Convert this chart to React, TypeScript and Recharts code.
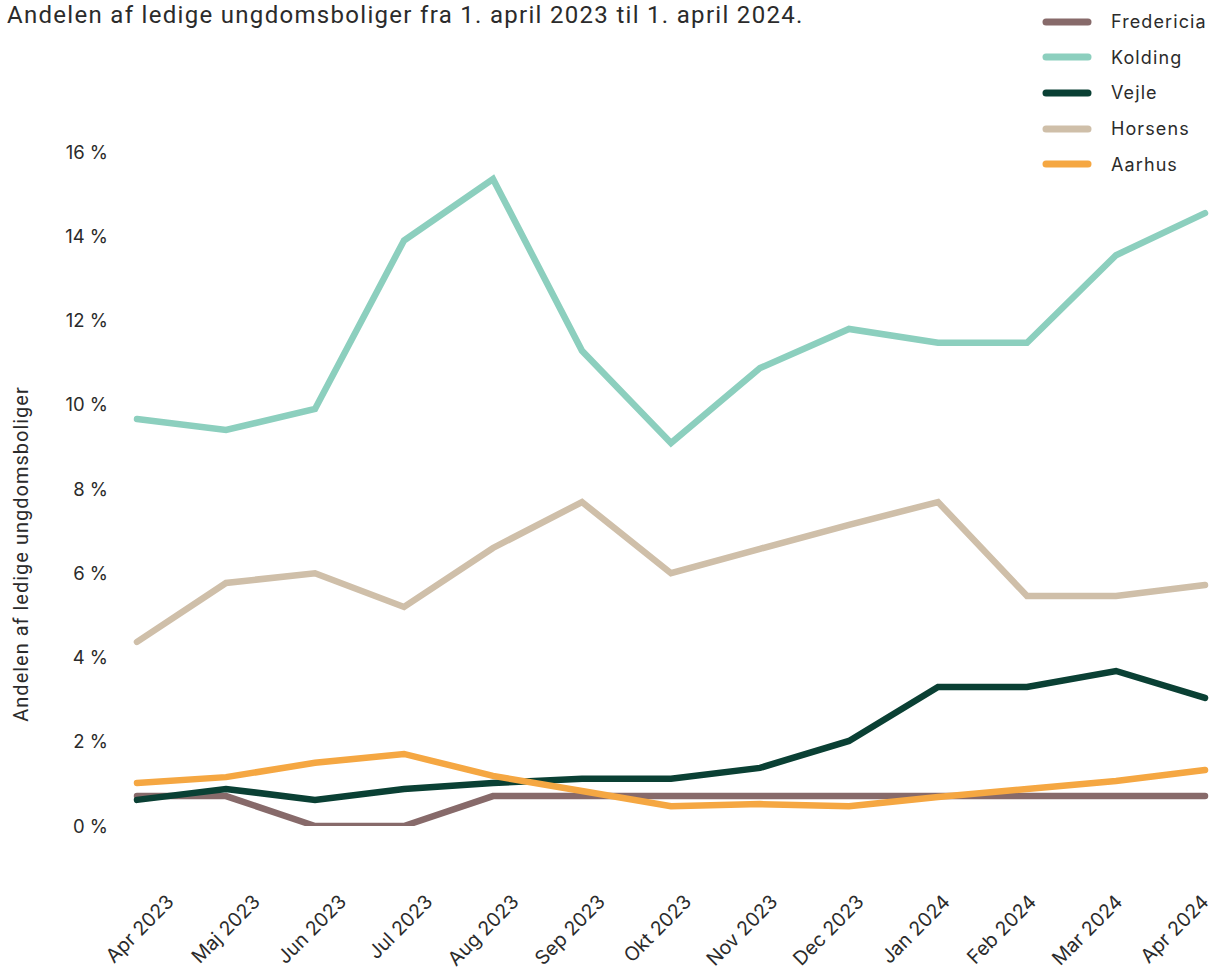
import React from "react";
import { LineChart, Line, XAxis, YAxis } from "recharts";

const months = ["Apr 2023", "Maj 2023", "Jun 2023", "Jul 2023", "Aug 2023", "Sep 2023", "Okt 2023", "Nov 2023", "Dec 2023", "Jan 2024", "Feb 2024", "Mar 2024", "Apr 2024"];
const fredericia = [0.71, 0.71, 0, 0, 0.71, 0.71, 0.71, 0.71, 0.71, 0.71, 0.71, 0.71, 0.71];
const kolding = [9.66, 9.4, 9.9, 13.9, 15.36, 11.28, 9.09, 10.87, 11.8, 11.47, 11.47, 13.55, 14.55];
const vejle = [0.62, 0.88, 0.62, 0.88, 1.02, 1.12, 1.12, 1.38, 2.02, 3.3, 3.3, 3.68, 3.04];
const horsens = [4.37, 5.77, 6.0, 5.2, 6.6, 7.69, 6.0, 6.58, 7.15, 7.69, 5.46, 5.46, 5.72];
const aarhus = [1.02, 1.16, 1.5, 1.71, 1.19, 0.83, 0.47, 0.52, 0.47, 0.69, 0.88, 1.07, 1.33];
const yTicks = [0, 2, 4, 6, 8, 10, 12, 14, 16];

const series = [
  { key: "Fredericia", values: fredericia, color: "#876a6a" },
  { key: "Kolding", values: kolding, color: "#8ccfbe" },
  { key: "Vejle", values: vejle, color: "#0a4034" },
  { key: "Horsens", values: horsens, color: "#cfbfa9" },
  { key: "Aarhus", values: aarhus, color: "#f5a742" },
];

const data = months.map((m, i) => {
  const row: Record<string, any> = { month: m };
  series.forEach((s) => (row[s.key] = s.values[i]));
  return row;
});

const TEXT = "#2b2b2b";
const FONT = "Inter, 'Noto Sans', sans-serif";

const XTick = (props: any) => {
  const { x, y, payload } = props;
  return (
    <text
      x={x}
      y={y}
      transform={`rotate(-45, ${x}, ${y})`}
      textAnchor="end"
      fill={TEXT}
      fontSize={19.5}
      fontFamily={FONT}
    >
      {payload.value}
    </text>
  );
};

export default function App() {
  return (
    <div style={{ position: "relative", width: 1218, height: 974, background: "#fff", overflow: "hidden" }}>
      <style>{`body{margin:0;}`}</style>
      <div
        style={{
          position: "absolute",
          left: 7,
          top: 0,
          fontFamily: "Roboto, sans-serif",
          fontSize: 24,
          letterSpacing: 1.3,
          color: TEXT,
          lineHeight: "30px",
          whiteSpace: "nowrap",
        }}
      >
        Andelen af ledige ungdomsboliger fra 1. april 2023 til 1. april 2024.
      </div>
      <div
        style={{
          position: "absolute",
          left: 21,
          top: 554,
          transform: "translate(-50%, -50%) rotate(-90deg)",
          fontFamily: "Roboto, sans-serif",
          fontSize: 20,
          letterSpacing: 1,
          color: TEXT,
          whiteSpace: "nowrap",
        }}
      >
        Andelen af ledige ungdomsboliger
      </div>
      <div
        style={{
          position: "absolute",
          left: 1042,
          top: 4,
          fontFamily: FONT,
          fontSize: 18,
          color: TEXT,
        }}
      >
        {series.map((s) => (
          <div key={s.key} style={{ display: "flex", alignItems: "center", height: 35.6 }}>
            <svg width={50} height={10} style={{ marginRight: 19 }}>
              <line x1={4} y1={5} x2={46} y2={5} stroke={s.color} strokeWidth={7} strokeLinecap="round" />
            </svg>
            <span style={{ letterSpacing: 1.1 }}>{s.key}</span>
          </div>
        ))}
      </div>
      <LineChart
        width={1218}
        height={974}
        data={data}
        margin={{ top: 152, right: 13, bottom: 0, left: 77 }}
        style={{ position: "absolute", left: 0, top: 0 }}
      >
        <XAxis xAxisId="data" dataKey="month" hide />
        <XAxis
          xAxisId="labels"
          dataKey="month"
          padding={{ left: 38, right: -5 }}
          axisLine={false}
          tickLine={false}
          tickSize={0}
          tickMargin={47}
          height={148}
          interval={0}
          tick={<XTick />}
        />
        <YAxis
          domain={[0, 16]}
          ticks={yTicks}
          width={60}
          axisLine={false}
          tickLine={false}
          tickSize={0}
          tickMargin={29}
          tickFormatter={(v: number) => `${v} %`}
          tick={{ fill: TEXT, fontSize: 18.5, fontFamily: FONT }}
          allowDataOverflow
        />
        {series.map((s) => (
          <Line
            key={s.key}
            xAxisId="data"
            type="linear"
            dataKey={s.key}
            stroke={s.color}
            strokeWidth={6.5}
            strokeLinecap="round"
            strokeLinejoin="miter"
            dot={false}
            activeDot={false}
            isAnimationActive={false}
          />
        ))}
      </LineChart>
    </div>
  );
}
